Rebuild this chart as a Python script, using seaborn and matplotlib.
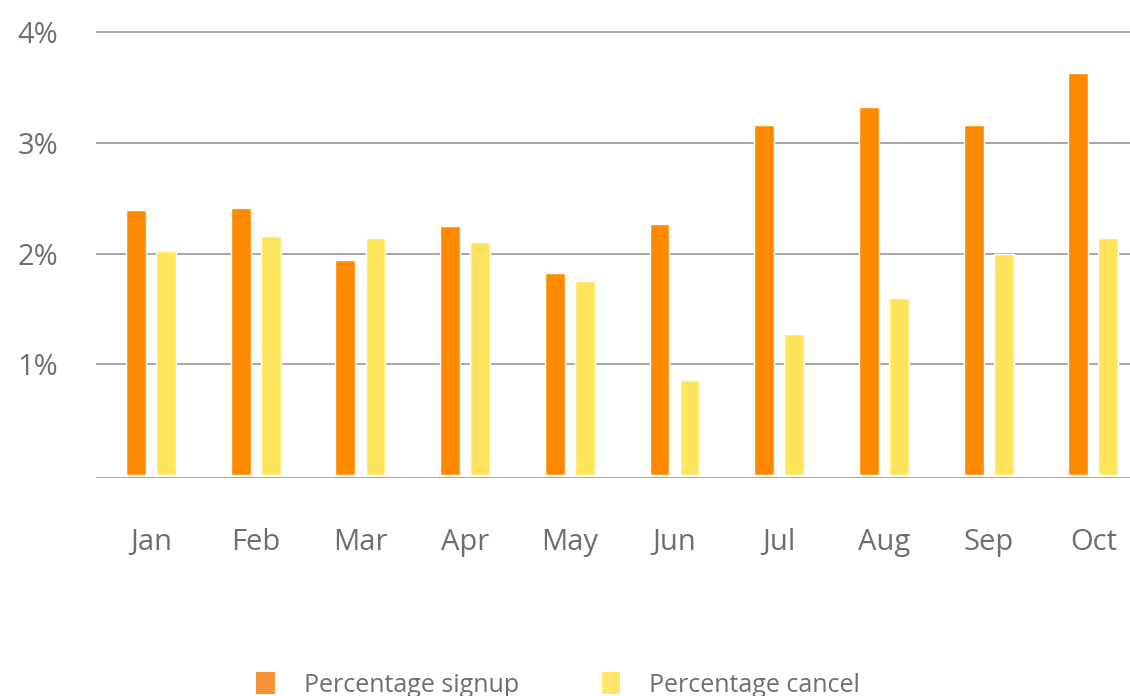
import pandas as pd
import matplotlib.pyplot as plt
import seaborn as sns
from matplotlib.patches import Patch

# ================================
# Data
# ================================
months = ["Jan", "Feb", "Mar", "Apr", "May", "Jun", "Jul", "Aug", "Sep", "Oct"]
signup = [2.39, 2.41, 1.94, 2.25, 1.82, 2.27, 3.16, 3.32, 3.16, 3.63]
cancel = [2.02, 2.16, 2.14, 2.10, 1.75, 0.86, 1.27, 1.60, 2.00, 2.14]
series_names = ["Percentage signup", "Percentage cancel"]
y_ticks = [1, 2, 3, 4]
y_labels = ["1%", "2%", "3%", "4%"]

df = pd.DataFrame({"month": months * 2,
                   "value": signup + cancel,
                   "series": [series_names[0]] * len(months) + [series_names[1]] * len(months)})

# ================================
# Style
# ================================
sns.set_style("white")
plt.rcParams["font.family"] = ["Open Sans", "DejaVu Sans"]
text_color = "#6b6e78"
grid_color = "#8c8e96"
bar_colors = ["#ff8a00", "#ffe55c"]
legend_colors = ["#f7943a", "#ffe56a"]

fig = plt.figure(figsize=(11.3, 6.96), dpi=100)
ax = fig.add_axes([0.085, 0.3128, 0.915, 0.649])

sns.barplot(data=df, x="month", y="value", hue="series", palette=bar_colors,
            saturation=1, width=0.574, gap=0.34, dodge=True, legend=False,
            ax=ax, zorder=3)

# gridlines + baseline
for t in y_ticks:
    ax.axhline(t, color=grid_color, lw=1.1, zorder=1)
ax.axhline(-0.025, color=grid_color, lw=1.1, zorder=1)

ax.set_xlim(-0.525, 9.35)
ax.set_ylim(-0.03, 4.05)
ax.set_yticks(y_ticks)
ax.set_yticklabels(y_labels)
ax.set_xlabel("")
ax.set_ylabel("")
for s in ax.spines.values():
    s.set_visible(False)
ax.tick_params(axis="y", length=0, pad=27, labelsize=21, labelcolor=text_color)
ax.tick_params(axis="x", length=0, pad=36, labelsize=21, labelcolor=text_color)

# Legend at bottom (partially cut like the reference)
handles = [Patch(facecolor=c, edgecolor="none") for c in legend_colors]
fig.legend(handles, series_names, loc="center", bbox_to_anchor=(0.494, 0.016),
           ncol=2, frameon=False, fontsize=18, labelcolor=text_color,
           handlelength=0.75, handleheight=1.0, handletextpad=1.15, columnspacing=3.3)

plt.savefig("out.png", dpi=100)
